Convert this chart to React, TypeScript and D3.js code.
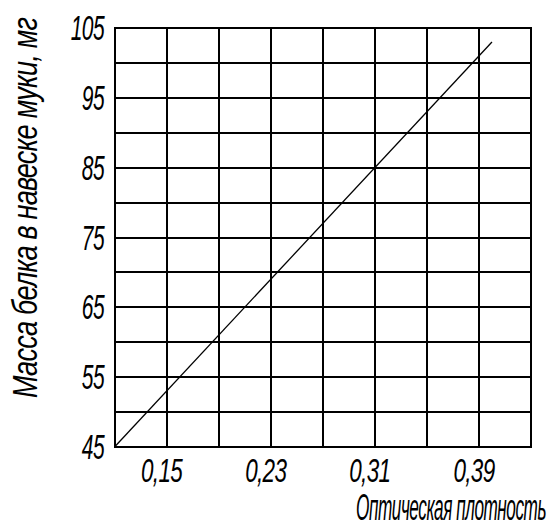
import React, { useLayoutEffect, useRef } from 'react';
import * as d3 from 'd3';

const xGrid = [0.11, 0.15, 0.19, 0.23, 0.27, 0.31, 0.35, 0.39, 0.43];
const yGrid = [45, 50, 55, 60, 65, 70, 75, 80, 85, 90, 95, 100, 105];
const xTicks = [0.15, 0.23, 0.31, 0.39];
const yTicks = [45, 55, 65, 75, 85, 95, 105];
const lineX = [0.11, 0.4];
const lineY = [45, 103];

const xTitle = 'Оптическая плотность';
const yTitle = 'Масса белка в навеске муки, мг';

const FONT = '"Liberation Sans", Arial, sans-serif';

const App = () => {
  const width = 556;
  const height = 525;
  const margin = { top: 28, right: 25, bottom: 78, left: 114.5 };
  const xTitleRef = useRef<SVGTextElement>(null);
  const yTitleRef = useRef<SVGTextElement>(null);

  const x = d3.scaleLinear().domain([0.11, 0.43]).range([margin.left, width - margin.right]);
  const y = d3.scaleLinear().domain([45, 105]).range([height - margin.bottom, margin.top]);

  const line = d3
    .line<number>()
    .x((d) => x(d))
    .y((d, i) => y(lineY[i]));

  const fmt = (v: number) => d3.format('.2f')(v).replace('.', ',');

  // squeeze the titles horizontally to the condensed look of the original
  useLayoutEffect(() => {
    const fit = (el: SVGTextElement | null, target: number, base: string) => {
      if (!el) return;
      const w = el.getComputedTextLength() || target;
      d3.select(el).attr('transform', `${base} scale(${target / w},1)`);
    };
    fit(xTitleRef.current, 190, 'translate(546,520)');
    fit(yTitleRef.current, 380, 'translate(37,398) rotate(-90)');
  }, []);

  return (
    <svg
      width={width}
      height={height}
      style={{ position: 'absolute', left: 0, top: 0, background: '#fff' }}
      fontFamily={FONT}
      fontStyle="italic"
    >
      {/* grid */}
      <g stroke="#000" strokeWidth={2} shapeRendering="crispEdges">
        {xGrid.map((v) => (
          <line key={'gx' + v} x1={Math.round(x(v))} x2={Math.round(x(v))} y1={y(45) + 1} y2={y(105) - 1} />
        ))}
        {yGrid.map((v) => (
          <line key={'gy' + v} x1={x(0.11) - 1} x2={x(0.43) + 1} y1={Math.round(y(v))} y2={Math.round(y(v))} />
        ))}
      </g>

      <path d={line(lineX) || ''} fill="none" stroke="#000" strokeWidth={1.3} />

      {/* y ticks */}
      {yTicks.map((v) => (
        <g key={'yt' + v} transform={`translate(104,${y(v) + 12}) scale(0.6,1)`}>
          <text textAnchor="end" fontSize={35} letterSpacing={-1} fill="#000">
            {v}
          </text>
        </g>
      ))}

      {/* x ticks */}
      {xTicks.map((v) => (
        <g key={'xt' + v} transform={`translate(${x(v) - 5},482) scale(0.66,1)`}>
          <text textAnchor="middle" fontSize={34} letterSpacing={-1} fill="#000">
            {fmt(v)}
          </text>
        </g>
      ))}

      <text ref={xTitleRef} textAnchor="end" fontSize={37} letterSpacing={-1} fill="#000" transform="translate(546,520) scale(0.5,1)">
        {xTitle}
      </text>

      <text ref={yTitleRef} fontSize={35} letterSpacing={-1} fill="#000" transform="translate(37,398) rotate(-90) scale(0.7,1)">
        {yTitle}
      </text>
    </svg>
  );
};

export default App;
